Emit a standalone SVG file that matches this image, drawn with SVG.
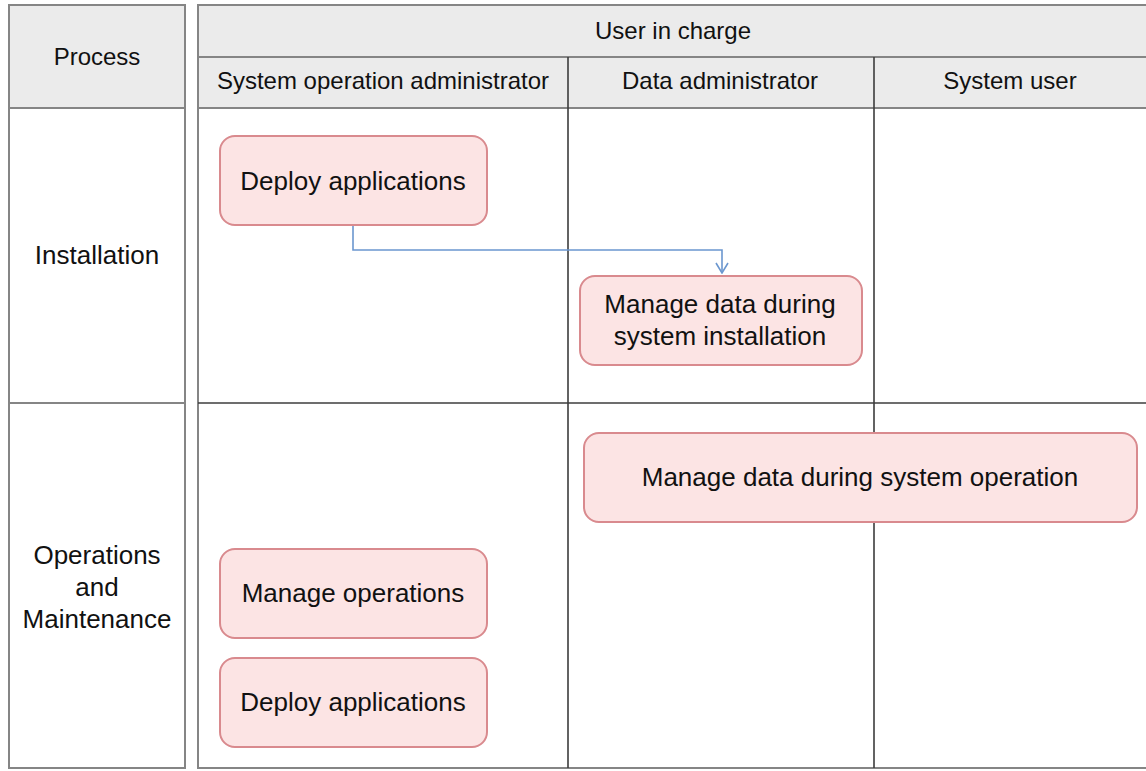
<svg xmlns="http://www.w3.org/2000/svg" width="1146" height="771" viewBox="0 0 1146 771">
<defs>
<style>
.t{font-family:"Liberation Sans",Arial,sans-serif;fill:#111;text-anchor:middle}
.h{font-size:24px}
.n{font-size:26px}
.hdr{fill:#ebebeb;stroke:none}
.gl{stroke:#858585;stroke-width:2;fill:none}
.dl{stroke:#3c3c3c;stroke-width:1.6;fill:none}
.node rect{fill:#fce4e4;stroke:#d98a8e;stroke-width:2}
.conn{stroke:#6b97cf;stroke-width:1.6;fill:none}
</style>
<marker id="arr" viewBox="0 0 12 14" refX="11" refY="7" markerWidth="12" markerHeight="14" markerUnits="userSpaceOnUse" orient="auto">
<path d="M1,1 L11,7 L1,13" fill="none" stroke="#6b97cf" stroke-width="1.6"/>
</marker>
</defs>
<rect width="1146" height="771" fill="#fff"/>
<g id="table">
<rect class="hdr" x="9" y="5" width="176" height="103"/>
<rect class="hdr" x="198" y="5" width="948" height="103"/>
<rect class="gl" x="9" y="5" width="176" height="763"/>
<line class="gl" x1="9" y1="108" x2="185" y2="108"/>
<line class="gl" x1="9" y1="403" x2="185" y2="403"/>
<path class="gl" d="M1147,5 H198 V768 H1147"/>
<line class="gl" x1="198" y1="57" x2="1146" y2="57"/>
<line class="gl" x1="198" y1="108" x2="1146" y2="108"/>
<line class="dl" x1="198" y1="403" x2="1146" y2="403"/>
<line class="dl" x1="568" y1="57" x2="568" y2="768"/>
<line class="dl" x1="874" y1="57" x2="874" y2="768"/>
<text class="t h" x="97" y="65">Process</text>
<text class="t h" x="673" y="39">User in charge</text>
<text class="t h" x="383" y="89">System operation administrator</text>
<text class="t h" x="720" y="89">Data administrator</text>
<text class="t h" x="1010" y="89">System user</text>
<text class="t n" x="97" y="264">Installation</text>
<text class="t n" x="97" y="564">Operations</text>
<text class="t n" x="97" y="596">and</text>
<text class="t n" x="97" y="628">Maintenance</text>
</g>
<g id="connectors">
<path class="conn" d="M353,226 V250 H722 V273" marker-end="url(#arr)"/>
</g>
<g id="n1" class="node">
<rect x="220" y="136" width="267" height="89" rx="15"/>
<text class="t n" x="353" y="190">Deploy applications</text>
</g>
<g id="n2" class="node">
<rect x="580" y="276" width="282" height="89" rx="15"/>
<text class="t n" x="720" y="313">Manage data during</text>
<text class="t n" x="720" y="345">system installation</text>
</g>
<g id="n3" class="node">
<rect x="584" y="433" width="553" height="89" rx="15"/>
<text class="t n" x="860" y="486">Manage data during  system operation</text>
</g>
<g id="n4" class="node">
<rect x="220" y="549" width="267" height="89" rx="15"/>
<text class="t n" x="353" y="602">Manage operations</text>
</g>
<g id="n5" class="node">
<rect x="220" y="658" width="267" height="89" rx="15"/>
<text class="t n" x="353" y="711">Deploy applications</text>
</g>
</svg>
